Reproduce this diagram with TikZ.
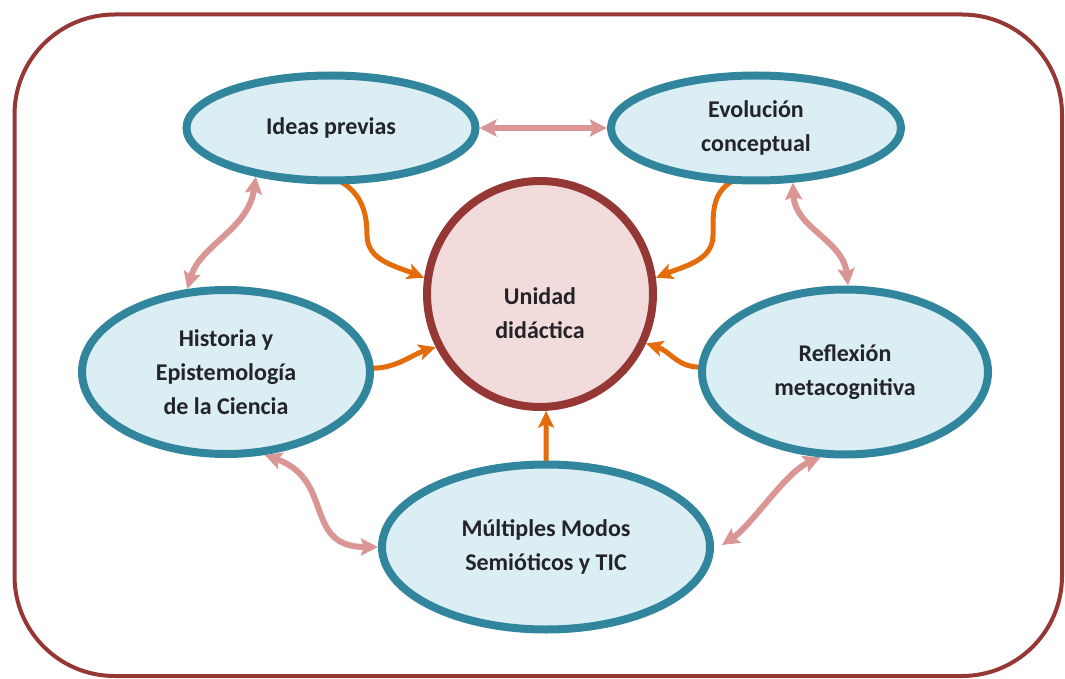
\documentclass[tikz,border=0pt]{standalone}
\usepackage{fontspec}
\setmainfont{Carlito}
\usetikzlibrary{arrows.meta,calc,shapes.geometric}
\pgfdeclarelayer{background}
\pgfsetlayers{background,main}
\definecolor{framec}{RGB}{149,55,53}
\definecolor{tealc}{RGB}{49,133,156}
\definecolor{bluefill}{RGB}{219,238,244}
\definecolor{pinkfill}{RGB}{242,220,219}
\definecolor{orangec}{RGB}{228,108,10}
\definecolor{pinkc}{RGB}{217,150,148}
\definecolor{txtc}{RGB}{35,35,40}
\begin{document}
\begin{tikzpicture}[x=1pt,y=-1pt,
  lbl/.style={font=\fontsize{24}{34}\selectfont\bfseries, text=txtc, align=center},
  topic/.style={ellipse, draw=tealc, line width=8pt, fill=bluefill, inner sep=0pt, lbl},
  core/.style={circle, draw=framec, line width=8pt, fill=pinkfill, inner sep=0pt, minimum size=226pt},
  feed/.style={draw=orangec, line width=5pt, -{Stealth[length=17pt,width=16pt,inset=4pt]}},
  link/.style={draw=pinkc, line width=6pt,
    {Stealth[length=17pt,width=17pt,inset=3pt]}-{Stealth[length=17pt,width=17pt,inset=3pt]}},
]
\useasboundingbox (0,0) rectangle (1065,679);
% outer frame
\draw[framec, line width=4pt, rounded corners=100pt] (14.5,14.5) rectangle (1062,676);

% topics around the central unit
\node[topic, minimum width=289pt, minimum height=105pt] (ideas) at (331,128) {Ideas previas};
\node[topic, minimum width=290pt, minimum height=105pt] (evol) at (756,128) {Evolución\\conceptual};
\node[topic, minimum width=288pt, minimum height=164pt] (hist) at (226,372) {Historia y\\Epistemología\\de la Ciencia};
\node[topic, minimum width=286pt, minimum height=165pt] (refl) at (845,372) {Reflexión\\metacognitiva};
\node[topic, minimum width=328pt, minimum height=165pt] (mult) at (546,547) {Múltiples Modos\\Semióticos y TIC};
\node[core] (ud) at (540,294) {};
\node[lbl] (udtext) at (540,313) {Unidad\\didáctica};

\begin{pgfonlayer}{background}
% contributions to the didactic unit
\draw[feed] ($(ideas.south)+(4,-6)$) .. controls +(25,12) and +(0,-25) .. (367,235)
  .. controls +(0,25) and +(-30,-12) .. (ud.172);
\draw[feed] ($(evol.south)+(-19,-6)$) .. controls +(-25,12) and +(0,-25) .. (713,235)
  .. controls +(0,25) and +(30,-12) .. (ud.8);
\draw[feed] ($(hist.east)+(-6,-4)$) .. controls +(26,2) and +(-25,8) .. (ud.207);
\draw[feed] ($(refl.west)+(6,-5)$) .. controls +(-26,2) and +(25,8) .. (ud.-25);
\draw[feed] ($(mult.north)+(0,6)$) -- (ud.-87);

% links between neighbouring topics
\draw[link] (ideas.east) -- (evol.west);
\draw[link] (ideas.213) .. controls +(-8,53) and +(13,-44) .. (hist.115);
\draw[link] (evol.304) .. controls +(2,45) and +(-5,-45) .. (refl.88);
\draw[link] (hist.295) .. controls +(70,25) and +(-75,0) .. (mult.west);
\draw[link] (refl.254) .. controls +(-35,15) and +(30,-20) .. ($(mult.east)+(8,-2)$);
\end{pgfonlayer}
\end{tikzpicture}
\end{document}
